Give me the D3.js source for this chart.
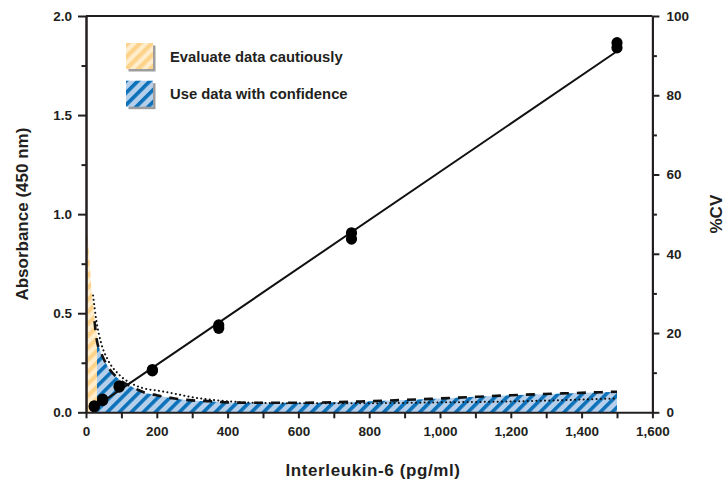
<!DOCTYPE html>
<html><head><meta charset="utf-8">
<script src="https://cdn.jsdelivr.net/npm/d3@7"></script>
<style>
body{margin:0;background:#fff;}
svg{display:block;font-family:"Liberation Sans",Arial,Helvetica,sans-serif;font-weight:bold;}
</style></head><body>
<svg id="c" width="724" height="479"></svg>
<script>
// ---- data ----
const concStd = [23.4, 46.9, 93.75, 187.5, 375, 750, 1500];
const absRep1 = [0.028, 0.060, 0.128, 0.210, 0.425, 0.875, 1.840];
const absRep2 = [0.032, 0.066, 0.132, 0.215, 0.440, 0.905, 1.865];
const fitX = [23.4, 1500];
const fitY = [0.025, 1.822];
// %CV profile - caution zone (orange)
const cvCautionX = [0, 4, 10, 15, 20, 24, 31];
const cvCautionY = [47, 45, 38.5, 31.7, 27.6, 24, 20.5];
// %CV profile - confidence zone (blue)
const cvConfX = [31, 43, 62, 90, 128, 165, 200, 250, 300, 350, 400, 460, 600, 800, 1000, 1200, 1500];
const cvConfY = [18, 14.9, 11.5, 8.6, 6.5, 5.0, 4.3, 3.5, 3.0, 2.8, 2.5, 2.4, 2.4, 2.8, 3.5, 4.3, 5.2];
// dashed %CV curve
const cvDashX = [24, 31, 43, 62, 90, 128, 165, 200, 250, 300, 350, 400, 460, 600, 800, 1000, 1200, 1500];
const cvDashY = [23, 18, 14.9, 11.5, 8.6, 6.5, 5.0, 4.3, 3.5, 3.0, 2.8, 2.5, 2.4, 2.4, 2.8, 3.5, 4.3, 5.2];
// dotted %CV curve
const cvDotX = [20, 29, 43, 62, 90, 128, 165, 200, 250, 300, 350, 400, 460, 600, 800, 1000, 1200, 1500];
const cvDotY = [29.5, 23.3, 17.4, 13.2, 9.8, 7.3, 6.0, 5.5, 4.7, 3.8, 3.2, 2.8, 2.45, 2.3, 2.3, 2.5, 2.75, 3.5];
const xTicks = [0,100,200,300,400,500,600,700,800,900,1000,1100,1200,1300,1400,1500,1600];
const yMajor = [0, 0.5, 1.0, 1.5, 2.0];
const yMinor = [0.25, 0.75, 1.25, 1.75];
const cvMajor = [0, 20, 40, 60, 80, 100];
const cvMinor = [10, 30, 50, 70, 90];
const legendLabels = ["Evaluate data cautiously", "Use data with confidence"];

// ---- layout ----
const m = {l:86, r:652.4, t:16, b:412.3};
const ink = "#231f20";
const x = d3.scaleLinear().domain([0,1600]).range([m.l, m.r]);
const y = d3.scaleLinear().domain([0,2]).range([m.b, m.t]);
const yCV = d3.scaleLinear().domain([0,100]).range([m.b, m.t]);
const svg = d3.select("#c");
const defs = svg.append("defs");
function stripes(id, bg, fg, period, fgw){
  const p = defs.append("pattern").attr("id",id).attr("patternUnits","userSpaceOnUse")
    .attr("width",period).attr("height",period).attr("patternTransform","rotate(45)");
  p.append("rect").attr("width",period).attr("height",period).attr("fill",bg);
  p.append("rect").attr("width",fgw).attr("height",period).attr("fill",fg);
}
stripes("pOrange","#FFEDCC","#FDD28A",8.5,4.2);
stripes("pBlue","#B5CEEA","#0B71B9",8.5,3.6);

const areaCV = d3.area().x(d=>x(d[0])).y0(yCV(0)).y1(d=>yCV(d[1])).curve(d3.curveMonotoneX);
const lineCV = d3.line().x(d=>x(d[0])).y(d=>yCV(d[1])).curve(d3.curveMonotoneX);

svg.append("path").datum(d3.zip(cvCautionX, cvCautionY)).attr("d", areaCV).attr("fill","url(#pOrange)");
svg.append("path").datum(d3.zip(cvConfX, cvConfY)).attr("d", areaCV).attr("fill","url(#pBlue)");

svg.append("path").datum(d3.zip(cvDotX, cvDotY)).attr("d", lineCV)
  .attr("fill","none").attr("stroke","#111").attr("stroke-width",2)
  .attr("stroke-linecap","round").attr("stroke-dasharray","0.1 4.2");
svg.append("path").datum(d3.zip(cvDashX, cvDashY)).attr("d", lineCV)
  .attr("fill","none").attr("stroke","#111").attr("stroke-width",2.6)
  .attr("stroke-dasharray","9 8");

// fit line
svg.append("path").datum(d3.zip(fitX, fitY))
  .attr("d", d3.line().x(d=>x(d[0])).y(d=>y(d[1])))
  .attr("stroke","#111").attr("stroke-width",2).attr("fill","none");

// points
const pts = d3.zip(concStd, absRep1).concat(d3.zip(concStd, absRep2));
svg.append("g").selectAll("ellipse").data(pts).join("ellipse")
  .attr("cx", d=>x(d[0])).attr("cy", d=>y(d[1])).attr("rx",5.6).attr("ry",5.8).attr("fill","#000");

// ---- axes ----
function styleAxis(g, fs){
  g.select(".domain").attr("stroke", ink).attr("stroke-width", 2);
  g.selectAll(".tick line").attr("stroke", ink).attr("stroke-width", 2);
  g.selectAll(".tick text").attr("fill", ink).attr("font-size", fs).attr("font-family","Liberation Sans, Arial, sans-serif").attr("font-weight","bold");
}
const gx = svg.append("g").attr("transform",`translate(0,${m.b})`)
  .call(d3.axisBottom(x).tickValues(xTicks).tickFormat(d => d%200===0 ? d3.format(",")(d) : "").tickSize(6).tickSizeOuter(0).tickPadding(8));
styleAxis(gx, 13.5);

const gyMin = svg.append("g").attr("transform",`translate(${m.l},0)`)
  .call(d3.axisLeft(y).tickValues(yMinor).tickFormat("").tickSize(4.5).tickSizeOuter(0));
styleAxis(gyMin, 13.5);
const gy = svg.append("g").attr("transform",`translate(${m.l},0)`)
  .call(d3.axisLeft(y).tickValues(yMajor).tickFormat(d3.format(".1f")).tickSize(8).tickSizeOuter(0).tickPadding(6));
styleAxis(gy, 13.5);

const gcMin = svg.append("g").attr("transform",`translate(${m.r},0)`)
  .call(d3.axisRight(yCV).tickValues(cvMinor).tickFormat("").tickSize(4.5).tickSizeOuter(0));
styleAxis(gcMin, 13.5);
const gc = svg.append("g").attr("transform",`translate(${m.r},0)`)
  .call(d3.axisRight(yCV).tickValues(cvMajor).tickSize(7).tickSizeOuter(0).tickPadding(7));
styleAxis(gc, 13.5);

// top border
svg.append("line").attr("x1", x(0)).attr("x2", x(1600)).attr("y1", m.t).attr("y2", m.t)
  .attr("stroke", ink).attr("stroke-width", 2);

// ---- titles ----
svg.append("text").attr("transform",`translate(22,${(m.t+m.b)/2}) rotate(-90)`)
  .attr("text-anchor","middle").attr("dominant-baseline","central")
  .attr("font-size",17).attr("fill",ink).text("Absorbance (450 nm)");
svg.append("text").attr("transform",`translate(716,${(m.t+m.b)/2}) rotate(-90)`)
  .attr("text-anchor","middle").attr("dominant-baseline","central")
  .attr("font-size",17).attr("fill",ink).text("%CV");
svg.append("text").attr("x", 373).attr("y", 476)
  .attr("text-anchor","middle").attr("font-size",17).attr("letter-spacing",0.6)
  .attr("fill",ink).text("Interleukin-6 (pg/ml)");

// ---- legend ----
const lg = svg.append("g");
const fills = ["url(#pOrange)","url(#pBlue)"];
legendLabels.forEach((t,i)=>{
  const yy = 43 + i*37.7;
  lg.append("rect").attr("x",128.5).attr("y",yy+2.5).attr("width",27).attr("height",26).attr("fill","#9d9d9d");
  lg.append("rect").attr("x",126).attr("y",yy).attr("width",27).attr("height",26).attr("fill",fills[i]);
  lg.append("text").attr("x",170).attr("y",yy+13.5).attr("dominant-baseline","central")
    .attr("font-size",14.8).attr("fill",ink).text(t);
});
</script>
</body></html>
